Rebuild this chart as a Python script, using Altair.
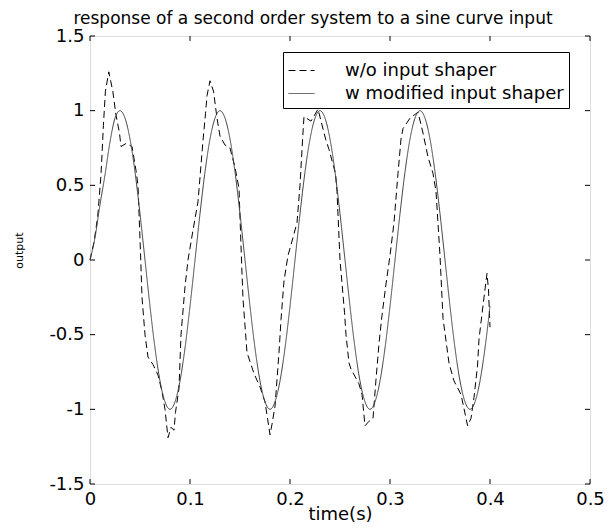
import altair as alt
import pandas as pd

chart_title = "response of a second order system to a sine curve input"
x_title = "time(s)"
y_title = "output"
series_names = ["w/o input shaper", "w modified input shaper"]

# dashed: response without input shaper
dashed_t = [0, 0.004, 0.0077, 0.011, 0.0134, 0.0154, 0.0188, 0.0228, 0.026, 0.0295,
            0.031, 0.036, 0.042, 0.046, 0.048, 0.0505, 0.052, 0.055, 0.058, 0.063,
            0.068, 0.072, 0.075, 0.078, 0.081, 0.084, 0.0855, 0.089, 0.091, 0.095, 0.098,
            0.103, 0.108, 0.113, 0.1155, 0.117, 0.12, 0.1235, 0.127, 0.13, 0.135,
            0.14, 0.145, 0.149, 0.1515, 0.153, 0.157, 0.164, 0.17, 0.175, 0.18,
            0.182, 0.185, 0.189, 0.191, 0.194, 0.198,
            0.203, 0.207, 0.21, 0.2126, 0.214, 0.221, 0.228, 0.2356, 0.239, 0.2455,
            0.247, 0.25, 0.2545, 0.256, 0.259, 0.261, 0.269, 0.272, 0.275, 0.279,
            0.283, 0.286, 0.289, 0.292, 0.296, 0.3,
            0.304, 0.308, 0.311, 0.313, 0.32, 0.328, 0.333, 0.338, 0.343, 0.346,
            0.35, 0.351, 0.353, 0.359, 0.364, 0.371, 0.3776, 0.381, 0.384, 0.3875,
            0.389, 0.394, 0.397, 0.3985, 0.4]
dashed_v = [0, 0.12, 0.29, 0.57, 0.9, 1.13, 1.26, 1.13, 0.97, 0.85,
            0.76, 0.78, 0.76, 0.6, 0.5, 0.05, -0.25, -0.5, -0.65, -0.7,
            -0.77, -0.88, -1.0, -1.19, -1.12, -1.14, -1.02, -0.86, -0.5, -0.18, 0.0,
            0.2, 0.39, 0.8, 0.98, 1.1, 1.2, 1.13, 0.95, 0.83, 0.77,
            0.75, 0.62, 0.48, 0.0, -0.26, -0.62, -0.76, -0.85, -0.95, -1.17,
            -1.1, -0.98, -0.62, -0.4, -0.14, 0.03,
            0.15, 0.25, 0.5, 0.81, 0.96, 0.93, 1.01, 0.81, 0.74, 0.58,
            0.46, 0.0, -0.35, -0.5, -0.69, -0.73, -0.83, -0.9, -1.11, -1.08,
            -1.06, -0.8, -0.56, -0.37, -0.16, 0.03,
            0.25, 0.58, 0.81, 0.88, 0.95, 0.99, 0.85, 0.69, 0.58, 0.46,
            0.03, -0.11, -0.39, -0.69, -0.81, -0.9, -1.11, -1.06, -0.92, -0.71,
            -0.53, -0.25, -0.09, -0.2, -0.45]

# solid: response with modified input shaper
solid_t = [0.0, 0.005, 0.01, 0.015, 0.02, 0.025, 0.03, 0.035, 0.04, 0.045,
           0.05, 0.055, 0.06, 0.065, 0.07, 0.075, 0.08, 0.085, 0.09, 0.095,
           0.1, 0.105, 0.11, 0.115, 0.12, 0.125, 0.13, 0.135, 0.14, 0.145,
           0.15, 0.155, 0.16, 0.165, 0.17, 0.175, 0.18, 0.185, 0.19, 0.195,
           0.2, 0.205, 0.21, 0.215, 0.22, 0.225, 0.23, 0.235, 0.24, 0.245,
           0.25, 0.255, 0.26, 0.265, 0.27, 0.275, 0.28, 0.285, 0.29, 0.295,
           0.3, 0.305, 0.31, 0.315, 0.32, 0.325, 0.33, 0.335, 0.34, 0.345,
           0.35, 0.355, 0.36, 0.365, 0.37, 0.375, 0.38, 0.385, 0.39, 0.395, 0.4]
solid_v = [0.0, 0.15, 0.37, 0.57, 0.79, 0.95,
           1.0, 0.95, 0.81, 0.59, 0.31, 0.0, -0.31, -0.59, -0.81, -0.95,
           -1.0, -0.95, -0.81, -0.59, -0.31, 0.0, 0.31, 0.59, 0.81, 0.95,
           1.0, 0.95, 0.81, 0.59, 0.31, 0.0, -0.31, -0.59, -0.81, -0.95,
           -1.0, -0.95, -0.81, -0.59, -0.31, 0.0, 0.31, 0.59, 0.81, 0.95,
           1.0, 0.95, 0.81, 0.59, 0.31, 0.0, -0.31, -0.59, -0.81, -0.95,
           -1.0, -0.95, -0.81, -0.59, -0.31, 0.0, 0.31, 0.59, 0.81, 0.95,
           1.0, 0.95, 0.81, 0.59, 0.31, 0.0, -0.31, -0.59, -0.81, -0.95,
           -1.0, -0.95, -0.81, -0.59, -0.31]

x_ticks = [0, 0.1, 0.2, 0.3, 0.4, 0.5]
y_ticks = [-1.5, -1, -0.5, 0, 0.5, 1, 1.5]

df_dash = pd.DataFrame({"t": dashed_t, "v": dashed_v, "series": series_names[0]})
df_solid = pd.DataFrame({"t": solid_t, "v": solid_v, "series": series_names[1]})
df_xt = pd.DataFrame({"tick": x_ticks})
df_yt = pd.DataFrame({"tick": y_ticks})

W, H = 500, 448
FONT = "DejaVu Sans"
TL = 5  # inner tick length

x_scale = alt.Scale(domain=[0, 0.5], nice=False, zero=False)
y_scale = alt.Scale(domain=[-1.5, 1.5], nice=False, zero=False)

x_axis = alt.Axis(values=x_ticks, labelExpr="'' + datum.value", title=x_title,
                  grid=False, domain=False, ticks=False, tickSize=0, labelPadding=6,
                  labelFlush=False, labelFont=FONT, labelFontSize=18, labelColor="black",
                  titleFont=FONT, titleFontSize=18, titleFontWeight="normal",
                  titleColor="black", titleY=35, titleBaseline="alphabetic")
y_axis = alt.Axis(values=y_ticks, labelExpr="'' + datum.value", title=y_title,
                  grid=False, domain=False, ticks=False, tickSize=0, labelPadding=6,
                  labelFlush=False, labelFont=FONT, labelFontSize=18, labelColor="black",
                  titleFont=FONT, titleFontSize=11, titleFontWeight="normal",
                  titleColor="black", titleX=-71, titleY=214, titleAngle=270,
                  titleAlign="center", titleBaseline="middle")

color_scale = alt.Scale(domain=series_names, range=["#000000", "#404040"])
dash_scale = alt.Scale(domain=series_names, range=[[7, 4], [1, 0]])
legend = alt.Legend(title=None, orient="none", legendX=193, legendY=16,
                    symbolType="stroke", symbolSize=676, symbolStrokeWidth=1,
                    labelFont=FONT, labelFontSize=18, labelColor="black",
                    labelOffset=30, labelLimit=400, padding=5, rowPadding=0,
                    strokeColor="black", fillColor="white", cornerRadius=0)

enc = dict(
    x=alt.X("t:Q", scale=x_scale, axis=x_axis),
    y=alt.Y("v:Q", scale=y_scale, axis=y_axis),
    color=alt.Color("series:N", scale=color_scale, legend=legend),
    strokeDash=alt.StrokeDash("series:N", scale=dash_scale, legend=legend),
)

dashed = alt.Chart(df_dash).mark_line(strokeWidth=1).encode(**enc)
solid = alt.Chart(df_solid).mark_line(strokeWidth=1, interpolate="monotone").encode(**enc)

xt_bottom = alt.Chart(df_xt).mark_rule(color="black", strokeWidth=1).encode(
    x=alt.X("tick:Q", scale=x_scale, axis=x_axis), y=alt.value(H), y2=alt.value(H - TL))
xt_top = alt.Chart(df_xt).mark_rule(color="black", strokeWidth=1).encode(
    x=alt.X("tick:Q", scale=x_scale, axis=x_axis), y=alt.value(0), y2=alt.value(TL))
yt_left = alt.Chart(df_yt).mark_rule(color="black", strokeWidth=1).encode(
    y=alt.Y("tick:Q", scale=y_scale, axis=y_axis), x=alt.value(0), x2=alt.value(TL))
yt_right = alt.Chart(df_yt).mark_rule(color="black", strokeWidth=1).encode(
    y=alt.Y("tick:Q", scale=y_scale, axis=y_axis), x=alt.value(W), x2=alt.value(W - TL))

chart = alt.layer(xt_bottom, xt_top, yt_left, yt_right, dashed, solid).properties(
    width=W, height=H,
    autosize=alt.AutoSizeParams(type="none"),
    padding={"left": 82, "top": 28, "right": 15, "bottom": 39},
    title=alt.TitleParams(text=chart_title, font=FONT, fontSize=17, fontWeight="normal",
                          color="black", anchor="middle", dx=-27, dy=13, offset=12),
).configure_view(stroke="black", strokeWidth=1).configure(background="white")

chart.save("out.html", embed_options={"renderer": "svg", "actions": False})
